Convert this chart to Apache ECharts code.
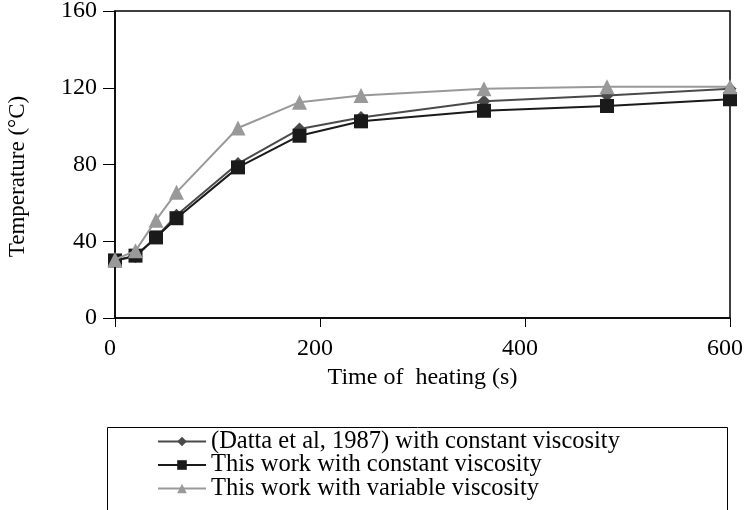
<!DOCTYPE html>
<html>
<head>
<meta charset="utf-8">
<script src="https://cdn.jsdelivr.net/npm/echarts@6/dist/echarts.min.js"></script>
<style>html,body{margin:0;padding:0;background:#fff}#c{width:745px;height:510px}</style>
</head>
<body>
<div id="c"></div>
<script>
var times = [0, 20, 40, 60, 120, 180, 240, 360, 480, 600];
var dattaConst = [30, 32, 42, 53.5, 80.5, 98.5, 104.5, 113, 116, 119.5];
var workConst = [30, 32.5, 42, 52, 78.5, 95, 102.5, 108, 110.5, 114];
var workVar = [30.5, 35, 51, 65.5, 99, 112.5, 116, 119.5, 120.5, 120.5];
var seriesNames = ['(Datta et al, 1987) with constant viscosity', 'This work with constant viscosity', 'This work with variable viscosity'];
var xTicks = [0, 200, 400, 600];
var yTicks = [0, 40, 80, 120, 160];

function pairs(v){ return times.map(function(t,i){ return [t, v[i]]; }); }
var font = 'Liberation Serif';
var chart = echarts.init(document.getElementById('c'));
chart.setOption({
  animation: false,
  textStyle: {fontFamily: font},
  grid: {left: 115, right: 15, top: 11, bottom: 192, show: true, borderColor: '#000', borderWidth: 1.5, outerBoundsMode: 'none'},
  xAxis: {
    type: 'value', min: xTicks[0], max: xTicks[xTicks.length-1], interval: 200,
    name: 'Time of  heating (s)', nameLocation: 'middle', nameGap: 48,
    nameTextStyle: {fontFamily: font, fontSize: 24, color: '#000'},
    axisLine: {show: true, lineStyle: {color: '#000', width: 1.5}},
    axisTick: {show: true, length: 9, lineStyle: {color: '#000'}},
    axisLabel: {fontFamily: font, fontSize: 24, color: '#000', margin: 19, padding: [0, 10, 0, 0]},
    splitLine: {show: false}
  },
  yAxis: {
    type: 'value', min: yTicks[0], max: yTicks[yTicks.length-1], interval: 40,
    name: 'Temperature (°C)', nameLocation: 'middle', nameGap: 86,
    nameTextStyle: {fontFamily: font, fontSize: 23, color: '#000', padding: [0, 24, 0, 0]},
    axisLine: {show: true, lineStyle: {color: '#000', width: 1.5}},
    axisTick: {show: true, length: 12, lineStyle: {color: '#000'}},
    axisLabel: {fontFamily: font, fontSize: 24, color: '#000', margin: 18},
    splitLine: {show: false}
  },
  graphic: [{
    type: 'rect', left: 105, top: 425, silent: true,
    shape: {width: 620, height: 84},
    style: {fill: 'none', stroke: '#000', lineWidth: 1}
  }],
  legend: {
    orient: 'vertical', left: 157, top: 429,
    padding: 0,
    itemWidth: 48, itemHeight: 12, itemGap: -1.5,
    textStyle: {fontFamily: font, fontSize: 24.5, color: '#000', lineHeight: 22},
    data: seriesNames
  },
  series: [
    {name: seriesNames[0], type: 'line', data: pairs(dattaConst), symbol: 'diamond', symbolSize: 13,
     lineStyle: {color: '#4a4a4a', width: 2}, itemStyle: {color: '#4a4a4a'}, z: 2},
    {name: seriesNames[1], type: 'line', data: pairs(workConst), symbol: 'rect', symbolSize: 14,
     lineStyle: {color: '#1a1a1a', width: 2}, itemStyle: {color: '#1a1a1a'}, z: 3},
    {name: seriesNames[2], type: 'line', data: pairs(workVar), symbol: 'triangle', symbolSize: 15,
     lineStyle: {color: '#999999', width: 2}, itemStyle: {color: '#999999'}, z: 4}
  ]
});
</script>
</body>
</html>
